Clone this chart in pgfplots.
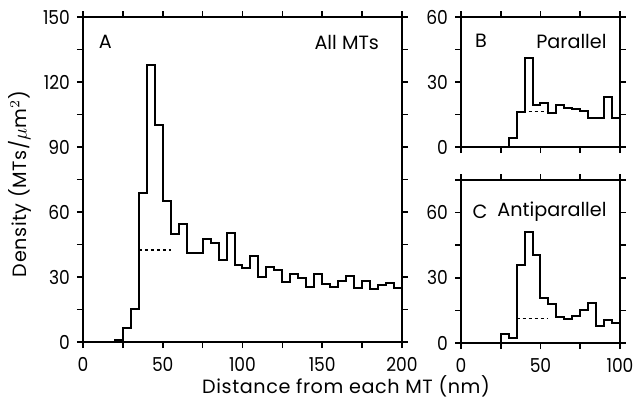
\documentclass[border=0pt]{standalone}
\usepackage{pgfplots}
\pgfplotsset{compat=1.18}
\usepackage{fontspec}
\setmainfont{Poppins}[LetterSpace=3]
\newfontfamily\tickfont{Poppins}[FakeStretch=0.89]
\newfontfamily\panelfont{Poppins}

\pgfplotstableread{
x y
0 0
5 0
10 0
15 0
20 1
25 6.5
30 15.4
35 69
40 128
45 100
50 65
55 50
60 54.5
65 41.2
70 41.2
75 47.5
80 45.5
85 37.8
90 50.3
95 35.5
100 34
105 39.8
110 30
115 34.5
120 33.2
125 27.5
130 31.4
135 29.4
140 25.5
145 31.2
150 26.8
155 25.5
160 28.3
165 30.5
170 24.8
175 28
180 24.3
185 26.3
190 27.1
195 24.8
200 24.8
}\allmts

\pgfplotstableread{
x y
0 0
5 0
10 0
15 0
20 0
25 0
30 4.3
35 16.3
40 41
45 19.4
50 20.5
55 15.5
60 19.4
65 18.2
70 17.4
75 16.8
80 13.5
85 13.5
90 23
95 13.5
100 13.5
}\parallel

\pgfplotstableread{
x y
0 0
5 0
10 0
15 0
20 0
25 4
30 2.1
35 36
40 51
45 40.6
50 20.8
55 17.9
60 11.8
65 10.9
70 12.4
75 15.1
80 18.2
85 7.8
90 10.5
95 9
100 9
}\antiparallel

\tikzset{panel/.style={font={\fontsize{9.6}{11}\panelfont}}}

\begin{document}
\begin{tikzpicture}[font=\fontsize{9.6}{11}\selectfont]
\path[use as bounding box] (0,0) rectangle (317pt,-202pt);
\pgfplotsset{
  every axis/.append style={
    scale only axis, anchor=south west,
    axis line style={line width=1pt},
    tick style={line width=0.8pt, black},
    tick align=outside, major tick length=3pt,
    tick label style={font={\fontsize{9.6}{11}\tickfont}},
    xticklabel style={yshift=-1pt},
  },
  hist/.style={const plot, line width=1pt, black, no marks},
  base/.style={line width=0.6pt, black, dash pattern=on 1.5pt off 1.5pt},
}
% A: all MTs
\begin{axis}[at={(41.5pt,-171pt)}, width=159.5pt, height=162.5pt,
  xmin=0, xmax=200, ymin=0, ymax=150,
  xtick={0,25,...,200}, xticklabels={0,,50,,100,,150,,200},
  ytick={0,15,...,150}, yticklabels={0,,30,,60,,90,,120,,150}]
\addplot[hist] table {\allmts};
\addplot[base] coordinates {(35,42.5) (55,42.5)};
\node[panel, anchor=center] at (rel axis cs:0.07,0.923) {A};
\node[panel, anchor=east] at (rel axis cs:0.95,0.923) {All MTs};
\end{axis}
% B: parallel
\begin{axis}[at={(230.5pt,-73.5pt)}, width=79.5pt, height=65pt,
  xmin=0, xmax=100, ymin=0, ymax=60,
  xtick={0,25,...,100}, xticklabels={},
  ytick={0,15,...,60}, yticklabels={0,,30,,60}]
\addplot[hist] table {\parallel};
\addplot[base] coordinates {(35,16.5) (55,16.5)};
\node[panel, anchor=center] at (rel axis cs:0.126,0.815) {B};
\node[panel, anchor=east] at (rel axis cs:0.96,0.815) {Parallel};
\end{axis}
% C: antiparallel
\begin{axis}[at={(230.5pt,-171.5pt)}, width=79.5pt, height=81.5pt,
  xmin=0, xmax=100, ymin=0, ymax=75,
  xtick={0,25,...,100}, xticklabels={0,,50,,100},
  ytick={0,15,...,75}, yticklabels={0,,30,,60,}]
\addplot[hist] table {\antiparallel};
\addplot[base] coordinates {(35,11.3) (55,11.3)};
\node[panel, anchor=center] at (rel axis cs:0.12,0.805) {C};
\node[panel, anchor=east] at (rel axis cs:0.96,0.805) {Antiparallel};
\end{axis}
\node at (173pt,-193pt) {Distance from each MT (nm)};
\node[rotate=90] at (10pt,-92pt) {Density (MTs/$\mu$m$^{2}$)};
\end{tikzpicture}
\end{document}
